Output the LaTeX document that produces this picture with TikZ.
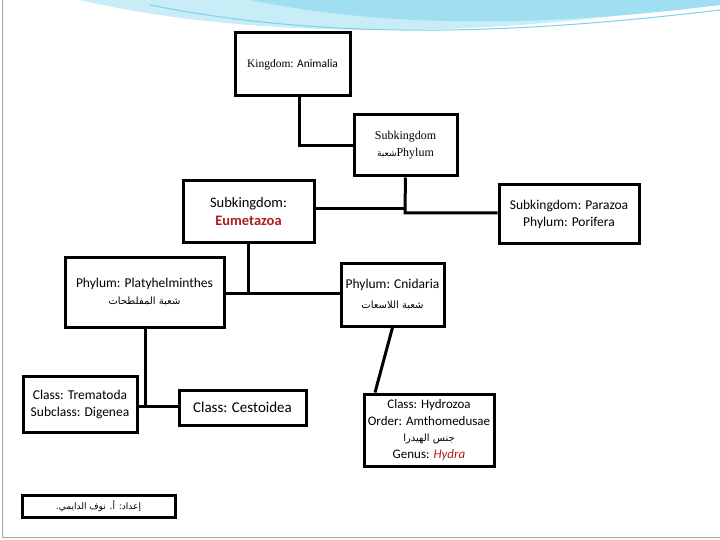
\documentclass[tikz,border=0pt]{standalone}
\usepackage{fontspec}
\setmainfont{Carlito}
\newfontfamily\serifpart{Liberation Serif}
\newfontfamily\arabicfont[Script=Arabic]{DejaVu Sans}
\usetikzlibrary{positioning}
\definecolor{darkred}{RGB}{170,30,30}
\definecolor{swoosh}{RGB}{120,210,235}
\newcommand{\ar}[1]{{\arabicfont\mdseries\TeXXeTstate=1\beginR #1\endR}}
\tikzset{
  box/.style={draw, line width=3pt, fill=white, align=center, inner sep=2pt, font=\fontsize{13.5}{17}\selectfont},
  link/.style={line width=3pt}
}
\begin{document}
\begin{tikzpicture}[x=1pt,y=-1pt]
  \useasboundingbox (0,0) rectangle (720,540);
  % frame and top decoration
  \draw[gray!70, line width=1pt] (2,0) -- (2,537) -- (720,537);
  \fill[swoosh!40] (80,0) .. controls (250,40) and (500,40) .. (720,0) -- cycle;
  \fill[swoosh!70] (250,0) .. controls (420,35) and (600,20) .. (720,5) -- (720,0) -- cycle;
  \draw[swoosh, line width=1pt] (150,5) .. controls (350,45) and (550,30) .. (720,10);
  %
  \node[box, minimum width=115pt, minimum height=63pt, font=\fontsize{11.5}{13}\selectfont] (king) at (292.5,64.5)
    {{\serifpart Kingdom:} Animalia};
  \node[box, minimum width=103pt, minimum height=61pt, font=\serifpart\fontsize{12}{17}\selectfont] (sub) at (405.5,145.5)
    {Subkingdom\\ {\fontsize{9}{9}\selectfont\ar{شعبة}}Phylum};
  \node[box, minimum width=131pt, minimum height=61pt, font=\fontsize{14.5}{18}\selectfont] (eume) at (248.5,211.5)
    {Subkingdom:\\ \textcolor{darkred}{\bfseries Eumetazoa}};
  \node[box, minimum width=140pt, minimum height=58pt] (para) at (569,214)
    {Subkingdom: Parazoa\\ Phylum: Porifera};
  \node[box, minimum width=159pt, minimum height=70pt] (platy) at (144.5,292)
    {Phylum: Platyhelminthes\\ {\fontsize{10}{12}\selectfont\ar{شعبة المفلطحات}}};
  \node[box, minimum width=103pt, minimum height=63pt] (cnid) at (392.5,294.5)
    {Phylum: Cnidaria\\[3pt] {\fontsize{10}{12}\selectfont\ar{شعبة اللاسعات}}};
  \node[box, minimum width=114pt, minimum height=56pt] (trem) at (80,404)
    {Class: Trematoda\\ Subclass: Digenea};
  \node[box, minimum width=127pt, minimum height=35pt, font=\fontsize{15}{17}\selectfont] (cest) at (242.5,407.5)
    {Class: Cestoidea};
  \node[box, minimum width=130pt, minimum height=72pt, font=\fontsize{13}{16.5}\selectfont] (hydro) at (429,430)
    {Class: Hydrozoa\\ Order: Amthomedusae\\ {\fontsize{10}{12}\selectfont\ar{جنس الهيدرا}}\\ Genus: \textcolor{darkred}{\itshape Hydra}};
  \node[box, minimum width=153pt, minimum height=22pt, font=\fontsize{9}{10}\selectfont] (credit) at (98.5,506)
    {\ar{إعداد: أ. نوف الدايمي.}};
  %
  \coordinate (k1) at (299,146);
  \coordinate (s1) at (405,209);
  \coordinate (e1) at (248,293);
  \coordinate (p1) at (145,406);
  \draw[link] (king.south -| k1) -- (k1) -- (k1 -| sub.west);
  \draw[link] (sub.south) -- (s1) |- (para.west |- 0,213);
  \draw[link] (eume.east |- s1) -- (s1);
  \draw[link] (eume.south -| e1) -- (e1) -- (e1 -| cnid.west);
  \draw[link] (platy.east |- e1) -- (e1);
  \draw[link] (platy.south -| p1) -- (p1) -- (p1 -| cest.west);
  \draw[link] (trem.east |- p1) -- (p1);
  \draw[link] (cnid.south) -- (hydro.north -| 375,0);
\end{tikzpicture}
\end{document}
